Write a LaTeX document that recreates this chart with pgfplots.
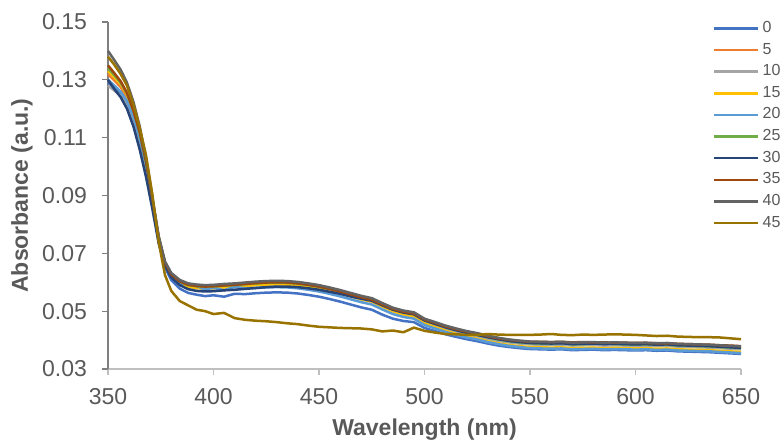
\documentclass[border=0pt]{standalone}
\usepackage{fontspec}
\setmainfont{Liberation Sans}
\usepackage{pgfplots}
\usepackage{pgfplotstable}
\pgfplotsset{compat=1.18}

\definecolor{c0}{RGB}{68,114,196}
\definecolor{c5}{RGB}{237,125,49}
\definecolor{c10}{RGB}{165,165,165}
\definecolor{c15}{RGB}{255,192,0}
\definecolor{c20}{RGB}{91,155,213}
\definecolor{c25}{RGB}{112,173,71}
\definecolor{c30}{RGB}{38,68,120}
\definecolor{c35}{RGB}{158,72,14}
\definecolor{c40}{RGB}{99,99,99}
\definecolor{c45}{RGB}{153,115,0}
\definecolor{txt}{RGB}{89,89,89}

% wavelength vs absorbance for each time
\pgfplotstableread{
x s0 s5 s10 s15 s20 s25 s30 s35 s40 s45
350 .1290 .1320 .1280 .1330 .1300 .1340 .1300 .1350 .1400 .1380
353 .1273 .1298 .1263 .1308 .1280 .1316 .1268 .1323 .1368 .1352
356 .1250 .1275 .1245 .1285 .1259 .1290 .1240 .1295 .1335 .1320
359 .1218 .1240 .1215 .1250 .1226 .1252 .1200 .1255 .1290 .1280
362 .1167 .1185 .1165 .1190 .1173 .1195 .1140 .1195 .1225 .1215
365 .1095 .1110 .1095 .1115 .1100 .1118 .1060 .1120 .1140 .1135
368 .1000 .1010 .1000 .1015 .1005 .1015 .0965 .1018 .1030 .1040
371 .0875 .0885 .0880 .0885 .0880 .0887 .0855 .0890 .0895 .0905
374 .0745 .0755 .0752 .0755 .0752 .0756 .0735 .0757 .0760 .0740
377 .0652 .0667 .0664 .0664 .0662 .0668 .0657 .0668 .0672 .0625
380 .0607 .0624 .0620 .0620 .0620 .0626 .0617 .0627 .0632 .0570
384 .0578 .0600 .0596 .0596 .0596 .0602 .0590 .0603 .0608 .0535
388 .0563 .0588 .0584 .0584 .0594 .0590 .0576 .0591 .0596 .0520
392 .0557 .0584 .0580 .0580 .0587 .0586 .0570 .0587 .0592 .0505
396 .0552 .0582 .0578 .0578 .0575 .0584 .0568 .0585 .0590 .0500
400 .0555 .0583 .0579 .0579 .0581 .0585 .0569 .0586 .0591 .0490
405 .0550 .0586 .0582 .0582 .0572 .0588 .0572 .0589 .0594 .0494
410 .0560 .0588 .0584 .0584 .0584 .0590 .0574 .0591 .0596 .0476
415 .0559 .0591 .0587 .0587 .0579 .0593 .0577 .0594 .0599 .0470
420 .0562 .0594 .0590 .0590 .0580 .0596 .0580 .0597 .0602 .0467
425 .0564 .0596 .0592 .0592 .0582 .0598 .0583 .0599 .0604 .0465
430 .0565 .0597 .0593 .0593 .0583 .0599 .0585 .0600 .0605 .0462
435 .0564 .0596 .0592 .0592 .0582 .0598 .0585 .0599 .0604 .0458
440 .0561 .0593 .0589 .0589 .0579 .0595 .0583 .0596 .0601 .0455
445 .0556 .0588 .0584 .0584 .0574 .0590 .0579 .0591 .0596 .0450
450 .0550 .0582 .0578 .0578 .0568 .0584 .0574 .0585 .0590 .0446
455 .0542 .0574 .0570 .0570 .0560 .0576 .0567 .0577 .0582 .0444
460 .0533 .0565 .0561 .0561 .0551 .0567 .0560 .0568 .0573 .0442
465 .0523 .0555 .0551 .0551 .0541 .0557 .0551 .0558 .0563 .0441
470 .0513 .0545 .0541 .0541 .0531 .0547 .0543 .0548 .0553 .0440
475 .0505 .0537 .0533 .0533 .0523 .0539 .0536 .0540 .0545 .0437
480 .0488 .0520 .0516 .0516 .0506 .0522 .0520 .0523 .0528 .0430
485 .0474 .0504 .0501 .0499 .0490 .0506 .0505 .0508 .0512 .0433
490 .0466 .0494 .0491 .0488 .0480 .0496 .0495 .0498 .0502 .0427
495 .0462 .0488 .0485 .0481 .0474 .0490 .0489 .0492 .0496 .0443
500 .0442 .0466 .0463 .0458 .0452 .0468 .0468 .0471 .0474 .0432
505 .0431 .0454 .0451 .0445 .0440 .0456 .0456 .0459 .0462 .0426
510 .0420 .0442 .0439 .0432 .0428 .0444 .0444 .0447 .0450 .0421
515 .0411 .0432 .0429 .0421 .0418 .0434 .0434 .0437 .0440 .0420
520 .0403 .0423 .0420 .0412 .0409 .0425 .0425 .0429 .0431 .0418
525 .0396 .0416 .0413 .0405 .0402 .0418 .0418 .0422 .0424 .0418
530 .0388 .0407 .0404 .0396 .0393 .0409 .0410 .0413 .0415 .0421
535 .0381 .0400 .0397 .0389 .0386 .0402 .0403 .0406 .0408 .0419
540 .0376 .0394 .0392 .0383 .0380 .0396 .0397 .0401 .0402 .0418
545 .0372 .0390 .0388 .0379 .0376 .0392 .0393 .0397 .0398 .0418
550 .0369 .0387 .0385 .0376 .0372 .0389 .0390 .0394 .0395 .0418
555 .0368 .0386 .0384 .0375 .0371 .0388 .0389 .0394 .0394 .0419
560 .0367 .0385 .0383 .0374 .0370 .0387 .0388 .0393 .0393 .0421
565 .0368 .0386 .0384 .0375 .0371 .0390 .0389 .0394 .0394 .0418
570 .0365 .0383 .0381 .0372 .0368 .0385 .0386 .0392 .0391 .0417
575 .0366 .0384 .0382 .0373 .0369 .0386 .0387 .0393 .0392 .0419
580 .0367 .0385 .0383 .0374 .0370 .0387 .0388 .0392 .0393 .0418
585 .0365 .0383 .0381 .0372 .0368 .0389 .0386 .0392 .0391 .0419
590 .0366 .0384 .0382 .0373 .0369 .0386 .0387 .0391 .0392 .0420
595 .0365 .0383 .0381 .0372 .0368 .0385 .0386 .0391 .0391 .0419
600 .0364 .0382 .0380 .0371 .0367 .0384 .0385 .0390 .0390 .0418
605 .0365 .0383 .0381 .0372 .0368 .0385 .0386 .0390 .0391 .0416
610 .0363 .0381 .0379 .0370 .0366 .0383 .0384 .0389 .0389 .0414
615 .0364 .0382 .0380 .0371 .0367 .0384 .0385 .0389 .0390 .0415
620 .0361 .0379 .0377 .0368 .0364 .0381 .0382 .0387 .0387 .0412
625 .0360 .0378 .0376 .0367 .0363 .0380 .0381 .0386 .0386 .0411
630 .0359 .0377 .0375 .0366 .0362 .0379 .0380 .0385 .0385 .0410
635 .0358 .0376 .0374 .0365 .0361 .0378 .0379 .0384 .0384 .0410
640 .0356 .0374 .0372 .0363 .0359 .0376 .0377 .0382 .0382 .0409
645 .0354 .0372 .0370 .0361 .0357 .0374 .0375 .0381 .0380 .0406
650 .0352 .0370 .0368 .0359 .0355 .0372 .0373 .0379 .0378 .0403
}\spectra

\begin{document}
\begin{tikzpicture}
\begin{axis}[
    scale only axis,
    width=316.5pt, height=173.5pt,
    xmin=350, xmax=650, ymin=0.03, ymax=0.15,
    xtick={350,400,...,650},
    ytick={0.03,0.05,...,0.15},
    yticklabel style={/pgf/number format/fixed, /pgf/number format/fixed zerofill,
        /pgf/number format/precision=2, xshift=-4pt},
    /pgf/number format/assume math mode=true,
    axis x line=bottom, axis y line=left,
    x axis line style={-, draw=black!25, line width=0.6pt},
    y axis line style={-, draw=black!50, line width=0.6pt},
    xtick style={draw=black!25, line width=0.6pt},
    ytick style={draw=black!50, line width=0.6pt},
    tick align=outside, major tick length=3pt,
    ticklabel style={font=\fontsize{11.5}{13}\selectfont, text=txt},
    xticklabel style={yshift=-3pt},
    xlabel={Wavelength (nm)}, ylabel={Absorbance (a.u.)},
    label style={font=\fontsize{11.5}{13}\selectfont\bfseries, text=txt},
    xlabel style={at={(axis description cs:0.5,-0.175)}, anchor=center},
    ylabel style={at={(axis description cs:-0.136,0.5)}, anchor=center},
    clip=false,
    every axis plot/.append style={line width=1.25pt, line join=round},
    legend style={at={(rel axis cs:0.946,1.023)}, anchor=north west,
        draw=none, fill=none, font=\fontsize{8}{9}\selectfont, text=txt,
        row sep=0.75pt, nodes={inner sep=1.5pt}},
    legend cell align=left,
    legend image code/.code={\path (0pt,0pt) -- (22pt,0pt);
        \draw[#1,overlay] (1pt,0pt) -- (21pt,0pt);},
]
\addplot[c0]  table[x=x, y=s0]  {\spectra}; \addlegendentry{0}
\addplot[c5]  table[x=x, y=s5]  {\spectra}; \addlegendentry{5}
\addplot[c10] table[x=x, y=s10] {\spectra}; \addlegendentry{10}
\addplot[c15] table[x=x, y=s15] {\spectra}; \addlegendentry{15}
\addplot[c20] table[x=x, y=s20] {\spectra}; \addlegendentry{20}
\addplot[c25] table[x=x, y=s25] {\spectra}; \addlegendentry{25}
\addplot[c30] table[x=x, y=s30] {\spectra}; \addlegendentry{30}
\addplot[c35] table[x=x, y=s35] {\spectra}; \addlegendentry{35}
\addplot[c40] table[x=x, y=s40] {\spectra}; \addlegendentry{40}
\addplot[c45] table[x=x, y=s45] {\spectra}; \addlegendentry{45}
\end{axis}
\pgfresetboundingbox
\path (-54pt,-36.5pt) rectangle (338pt,184.5pt);
\end{tikzpicture}
\end{document}
